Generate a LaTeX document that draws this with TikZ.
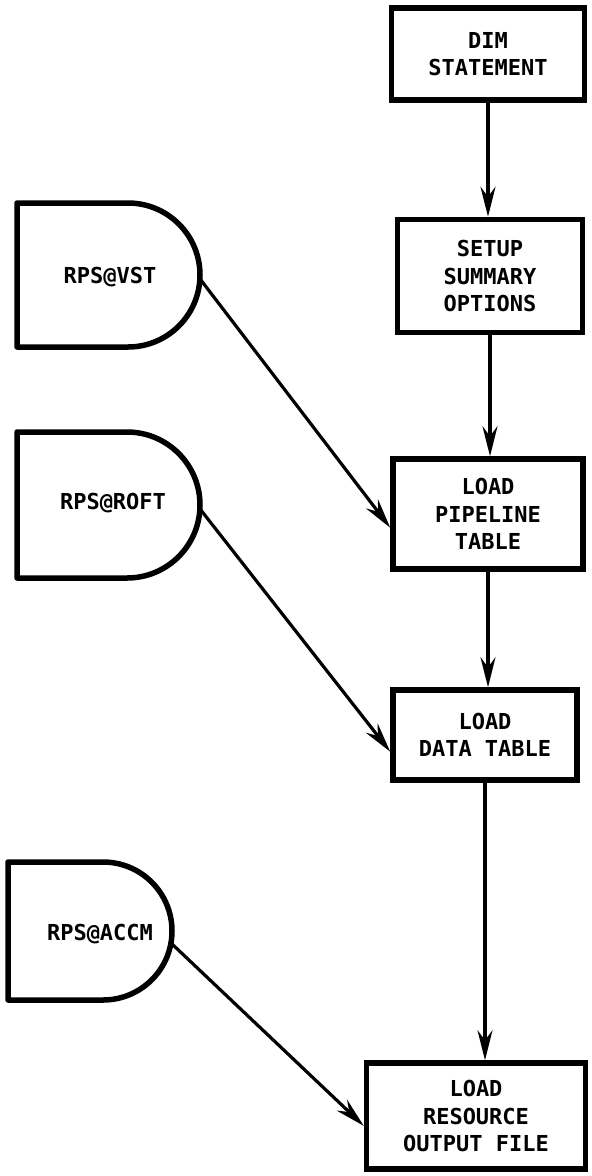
\documentclass[tikz,border=0pt]{standalone}
\usepackage{fontspec}
\setmonofont{DejaVu Sans Mono}
\usetikzlibrary{arrows.meta,positioning,calc}

\newcommand{\flowfont}{\ttfamily\bfseries\fontsize{22}{27.5}\selectfont}

% D-shaped file symbol: name, left x, top y, height, straight length, exit angle
\newcommand{\filesym}[6]{%
    \draw[fileline] (#2,#3) -- ++(#5,0)
        arc[start angle=-90, end angle=90, radius=#4/2] -- ++(-#5,0) -- cycle;
    \coordinate (#1-out) at ($(#2+#5,#3+#4/2)+(#6:#4/2)$);
}

\tikzset{
    procbox/.style={draw, line width=5.5pt, align=center, font=\flowfont, inner sep=0pt},
    fileline/.style={line width=5.5pt, line join=round},
    filetext/.style={font=\flowfont},
    flow/.style={line width=3.2pt, -{Stealth[length=30pt, width=15pt, inset=10pt]}},
}

\begin{document}
\begin{tikzpicture}[x=1pt, y=-1pt]
    \useasboundingbox (0,0) rectangle (592,1176);

    % Processing steps (right column)
    \node[procbox, minimum width=193pt, minimum height=92pt] (dim) at (488,54) {DIM\\STATEMENT};
    \node[procbox, minimum width=185pt, minimum height=113pt] (setup) at (490,276) {SETUP\\SUMMARY\\OPTIONS};
    \node[procbox, minimum width=190pt, minimum height=110pt] (pipe) at (488,514) {LOAD\\PIPELINE\\TABLE};
    \node[procbox, minimum width=184pt, minimum height=90pt] (data) at (485,735) {LOAD\\DATA TABLE};
    \node[procbox, minimum width=219pt, minimum height=106pt] (res) at (476,1116) {LOAD\\RESOURCE\\OUTPUT FILE};

    % Input files (left column)
    \filesym{vst}{17}{203}{144}{111}{3}
    \node[filetext] (vst) at (110,277) {RPS@VST};
    \filesym{roft}{17}{432}{146}{110}{3}
    \node[filetext] (roft) at (113,503) {RPS@ROFT};
    \filesym{accm}{8}{862}{138}{95}{10}
    \node[filetext] (accm) at (100,934) {RPS@ACCM};

    % Main flow
    \draw[flow] (dim.south) -- (dim.south |- setup.north);
    \draw[flow] (setup.south) -- (setup.south |- pipe.north);
    \draw[flow] (pipe.south) -- (pipe.south |- data.north);
    \draw[flow] (data.south) -- (data.south |- res.north);

    % File inputs
    \draw[flow] (vst-out) -- (pipe.188);
    \draw[flow] (roft-out) -- (data.190);
    \draw[flow] (accm-out) -- (res.185);
\end{tikzpicture}
\end{document}
